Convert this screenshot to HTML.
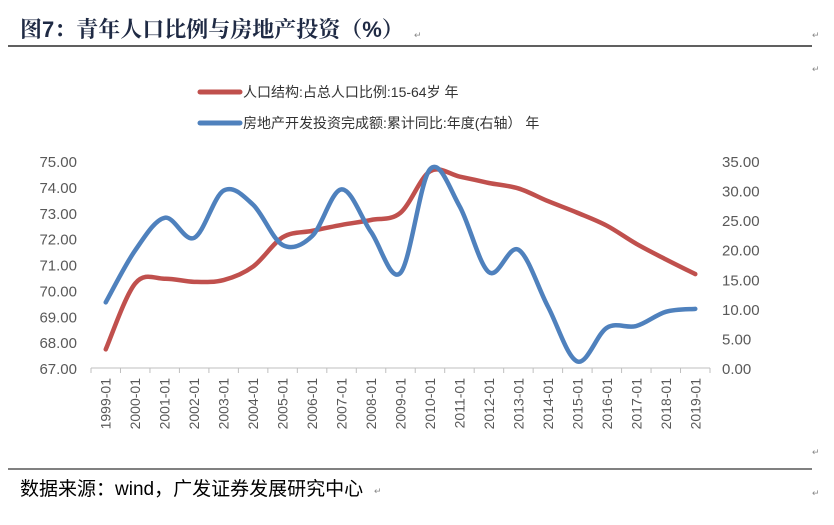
<!DOCTYPE html>
<html><head><meta charset="utf-8"><style>
body{margin:0;width:834px;height:520px;background:#fff;overflow:hidden;font-family:"Liberation Sans","Noto Sans CJK SC",sans-serif}
</style></head><body>
<svg width="834" height="520" xmlns="http://www.w3.org/2000/svg">
<text x="20" y="37" font-size="22" font-weight="bold" fill="#1f2a44" font-family="Liberation Sans,Noto Serif CJK SC,serif">图7：青年人口比例与房地产投资（%）</text>
<g font-size="9" fill="#888">
<text x="414" y="38">↵</text><text x="812" y="38">↵</text><text x="812" y="72">↵</text><text x="812" y="455">↵</text><text x="374" y="494">↵</text><text x="812" y="496">↵</text>
</g>
<line x1="8" y1="46" x2="812" y2="46" stroke="#000" stroke-width="1.2"/>
<g>
<line x1="200" y1="92" x2="240" y2="92" stroke="#c0504d" stroke-width="5" stroke-linecap="round"/>
<text x="243" y="97" font-size="14" fill="#333">人口结构:占总人口比例:15-64岁 年</text>
<line x1="200" y1="123" x2="240" y2="123" stroke="#4f81bd" stroke-width="5" stroke-linecap="round"/>
<text x="243" y="128" font-size="14" fill="#333">房地产开发投资完成额:累计同比:年度(右轴） 年</text>
</g>
<g id="plot"></g>
<line x1="8" y1="469" x2="812" y2="469" stroke="#000" stroke-width="1"/>
<text x="20" y="495" font-size="19" fill="#000">数据来源：wind，广发证券发展研究中心</text>
</svg>
<script>
const categories=["1999-01","2000-01","2001-01","2002-01","2003-01","2004-01","2005-01","2006-01","2007-01","2008-01","2009-01","2010-01","2011-01","2012-01","2013-01","2014-01","2015-01","2016-01","2017-01","2018-01","2019-01"];
const populationShare=[67.72,70.27,70.45,70.33,70.4,70.92,72.05,72.3,72.53,72.72,73.0,74.6,74.4,74.15,73.94,73.45,73.0,72.5,71.8,71.2,70.63];
const investmentGrowth=[11.1,19.9,25.4,22.0,30.0,27.6,20.8,22.3,30.2,23.0,16.1,33.6,27.4,16.2,20.0,10.4,1.1,6.8,7.1,9.5,10.0];
const leftTicks=[67,68,69,70,71,72,73,74,75];
const rightTicks=[0,5,10,15,20,25,30,35];
const NS="http://www.w3.org/2000/svg";
const g=document.getElementById('plot');
const X0=91,X1=710,YT=161,YB=368;
const step=(X1-X0)/categories.length;
const xs=i=>X0+step*(i+0.5);
const yL=v=>YB-(v-67)/(75-67)*(YB-YT);
const yR=v=>YB-v/35*(YB-YT);
function mk(t,a){const e=document.createElementNS(NS,t);for(const k in a)e.setAttribute(k,a[k]);g.appendChild(e);return e;}
leftTicks.forEach(v=>{const t=mk('text',{x:77,y:yL(v)+6,'text-anchor':'end','font-size':15,fill:'#595959'});t.textContent=v.toFixed(2);

});
rightTicks.forEach(v=>{const t=mk('text',{x:722,y:yR(v)+6,'font-size':15,fill:'#595959'});t.textContent=v.toFixed(2);

});
const ax=mk('line',{x1:X0,y1:YB,x2:X1,y2:YB,stroke:'#bfbfbf','stroke-width':1});


for(let i=0;i<=categories.length;i++){const x=X0+step*i;const tk=mk('line',{x1:x,y1:YB,x2:x,y2:YB+5,stroke:'#bfbfbf'});

}
categories.forEach((c,i)=>{const x=xs(i)+5;const t=mk('text',{x:x,y:378,transform:`rotate(-90 ${x} 378)`,'text-anchor':'end','font-size':14,fill:'#595959'});t.textContent=c;

});
function smooth(pts){let d=`M${pts[0][0]},${pts[0][1]}`;for(let i=0;i<pts.length-1;i++){const p0=pts[i-1]||pts[i],p1=pts[i],p2=pts[i+1],p3=pts[i+2]||p2;const t=6;
d+=` C${p1[0]+(p2[0]-p0[0])/t},${p1[1]+(p2[1]-p0[1])/t} ${p2[0]-(p3[0]-p1[0])/t},${p2[1]-(p3[1]-p1[1])/t} ${p2[0]},${p2[1]}`;}return d;}
const red=mk('path',{d:smooth(populationShare.map((v,i)=>[xs(i),yL(v)])),fill:'none',stroke:'#c0504d','stroke-width':4.5,'stroke-linecap':'round'});


const blue=mk('path',{d:smooth(investmentGrowth.map((v,i)=>[xs(i),yR(v)])),fill:'none',stroke:'#4f81bd','stroke-width':4.5,'stroke-linecap':'round'});


</script>
</body></html>
